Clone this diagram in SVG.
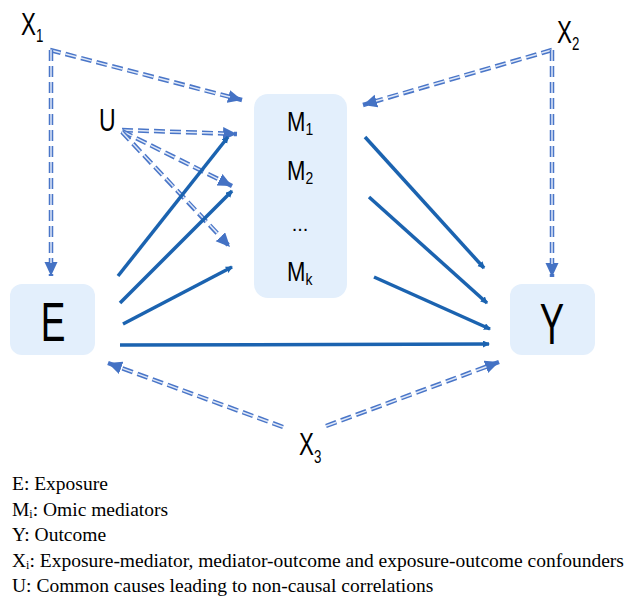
<svg xmlns="http://www.w3.org/2000/svg" width="624" height="596" viewBox="0 0 624 596">
<style>
.box{fill:#e3effc;}
.lbl{font-family:"Liberation Sans","DejaVu Sans",sans-serif;fill:#000;}
.dd-o{fill:none;stroke:#4a76c8;stroke-width:4.5;stroke-dasharray:11 5;}
.dd-i{fill:none;stroke:#dfe8f8;stroke-width:1.5;stroke-dasharray:11 5;}
.arr{marker-end:url(#ah);}
.sol{fill:none;stroke:#1b63b0;stroke-width:3.5;marker-end:url(#sh);}
.leg{font-family:"Liberation Serif","Times New Roman",serif;font-size:19.5px;fill:#000;}
</style>
<defs>
<marker id="ah" markerUnits="userSpaceOnUse" markerWidth="16" markerHeight="14" refX="14" refY="6.5" orient="auto">
<path d="M0,0 L14,6.5 L0,13 z" fill="#4472c4"/>
</marker>
<marker id="sh" markerUnits="userSpaceOnUse" markerWidth="8" markerHeight="8" refX="6" refY="3.5" orient="auto">
<path d="M0,0 L7,3.5 L0,7 z" fill="#1b63b0"/>
</marker>
</defs>

<g id="node-M">
<rect class="box" x="254" y="94" width="93" height="204" rx="14"/>
<text class="lbl" font-size="27" transform="translate(287,131) scale(0.82,1)">M<tspan font-size="17" dy="4">1</tspan></text>
<text class="lbl" font-size="27" transform="translate(287,180) scale(0.82,1)">M<tspan font-size="17" dy="4">2</tspan></text>
<text class="lbl" font-size="20" x="300" y="231" text-anchor="middle">...</text>
<text class="lbl" font-size="27" transform="translate(287,281) scale(0.82,1)">M<tspan font-size="17" dy="4">k</tspan></text>
</g>

<g id="node-E">
<rect class="box" x="10" y="284" width="85" height="71" rx="12"/>
<text class="lbl" font-size="56" text-anchor="middle" transform="translate(53,341) scale(0.66,1)">E</text>
</g>

<g id="node-Y">
<rect class="box" x="510" y="284" width="85" height="71" rx="12"/>
<text class="lbl" font-size="57" text-anchor="middle" transform="translate(552,344) scale(0.64,1)">Y</text>
</g>

<g id="node-X1">
<text class="lbl" font-size="32" transform="translate(21,35) scale(0.7,1)">X<tspan font-size="19" dy="7">1</tspan></text>
</g>
<g id="node-X2">
<text class="lbl" font-size="32" transform="translate(557,43) scale(0.7,1)">X<tspan font-size="19" dy="7">2</tspan></text>
</g>
<g id="node-X3">
<text class="lbl" font-size="32" transform="translate(299,455) scale(0.7,1)">X<tspan font-size="19" dy="8">3</tspan></text>
</g>
<g id="node-U">
<text class="lbl" font-size="32" transform="translate(99,131) scale(0.72,1)">U</text>
</g>

<g id="connectors">
<path class="dd-o arr" d="M50,50 L242,100"/><path class="dd-i" d="M50,50 L230,97"/>
<path class="dd-o arr" d="M51,50 L51,276"/><path class="dd-i" d="M51,50 L51,263"/>
<path class="dd-o arr" d="M552,50 L363,105"/><path class="dd-i" d="M552,50 L376,101"/>
<path class="dd-o arr" d="M552,50 L552,277"/><path class="dd-i" d="M552,50 L552,264"/>
<path class="dd-o arr" d="M122,130 L237,134"/><path class="dd-i" d="M122,130 L224,133.5"/>
<path class="dd-o arr" d="M122,131 L232,186"/><path class="dd-i" d="M122,131 L220,180"/>
<path class="dd-o arr" d="M122,132 L230,247"/><path class="dd-i" d="M122,132 L221,237"/>
<path class="dd-o arr" d="M283,427 L108,363"/><path class="dd-i" d="M283,427 L120,367.5"/>
<path class="dd-o arr" d="M326,426 L499,362"/><path class="dd-i" d="M326,426 L487,366.5"/>

<path class="sol" d="M118,276 L228,137"/>
<path class="sol" d="M120,303 L232,191"/>
<path class="sol" d="M123,324 L232,267"/>
<path class="sol" d="M120,345 L489,344"/>
<path class="sol" d="M365,137 L484,268"/>
<path class="sol" d="M369,197 L487,303"/>
<path class="sol" d="M374,277 L490,329"/>
</g>

<g id="legend">
<text class="leg" x="12" y="490">E: Exposure</text>
<text class="leg" x="12" y="516">M<tspan font-size="12" dy="2">i</tspan><tspan dy="-2">: Omic mediators</tspan></text>
<text class="leg" x="12" y="541">Y: Outcome</text>
<text class="leg" x="12" y="567">X<tspan font-size="12" dy="2">i</tspan><tspan dy="-2">: Exposure-mediator, mediator-outcome and exposure-outcome confounders</tspan></text>
<text class="leg" x="12" y="592">U: Common causes leading to non-causal correlations</text>
</g>
</svg>
